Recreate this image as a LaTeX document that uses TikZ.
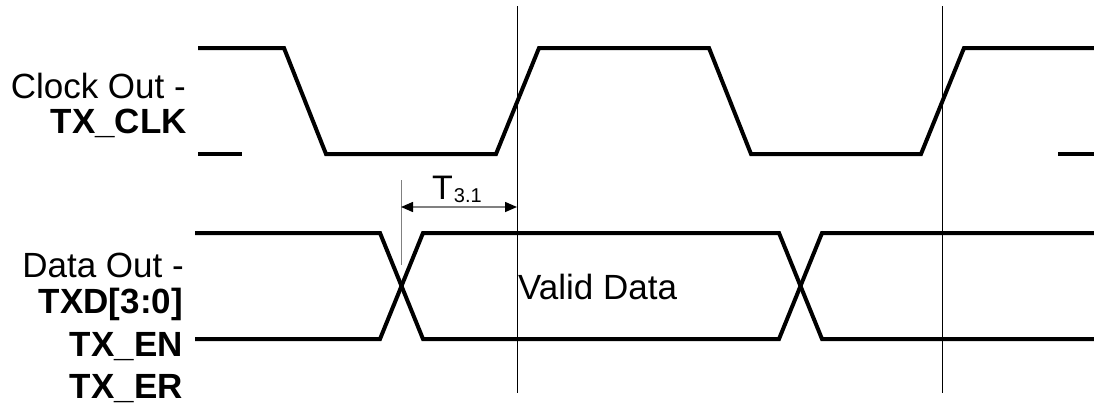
\documentclass[tikz,border=0pt]{standalone}
\usepackage{fontspec}
\setmainfont{Liberation Sans}
\usetikzlibrary{arrows.meta}

\tikzset{
  wave/.style={line width=4pt,line join=miter},
  mark line/.style={line width=1pt},
  sig label/.style={anchor=base east,inner sep=0pt,font=\fontsize{35}{40}\selectfont},
  dim arrow/.style={line width=1.5pt,gray,{Triangle[length=12pt,width=10pt,color=black]}-{Triangle[length=12pt,width=10pt,color=black]}}
}

\begin{document}
\begin{tikzpicture}[x=1pt,y=-1pt]
    \useasboundingbox (0,0) rectangle (1094,405);
    % clock
    \draw[wave] (198,48)--(284,48)--(326,154)--(496,154)--(539,48)--(709,48)--(751,154)--(921,154)--(964,48)--(1094,48);
    \draw[wave] (198,154)--(242,154);
    \draw[wave] (1058,154)--(1094,154);
    % data
    \draw[wave] (195,233)--(380,233)--(423,339)--(779,339)--(822,233)--(1094,233);
    \draw[wave] (195,339)--(380,339)--(423,233)--(779,233)--(822,339)--(1094,339);
    % reference lines
    \draw[mark line] (517,6)--(517,393);
    \draw[mark line] (942,6)--(942,393);
    \coordinate (t0) at (401,207);
    \coordinate (t1) at (517,207);
    \draw[mark line,gray] (401,180)--(401,265);
    \draw[dim arrow] (t0)--(t1);
    \node[anchor=base west,inner sep=0pt,font=\fontsize{34}{40}\selectfont] (tlab) at (432,199) {T\raisebox{-3pt}{\kern1pt\fontsize{20}{22}\selectfont 3.1}};
    \node[anchor=west,inner sep=0pt,font=\fontsize{35}{40}\selectfont] (valid) at (518,287) {Valid Data};
    % labels
    \node[sig label] (clk1) at (186,98) {Clock Out -};
    \node[sig label] (clk2) at (187,133) {\bfseries TX\_CLK};
    \node[sig label] (dat1) at (184,277) {Data Out -};
    \node[sig label] (dat2) at (183,313) {\bfseries TXD[3:0]};
    \node[sig label] (dat3) at (183,356) {\bfseries TX\_EN};
    \node[sig label] (dat4) at (183,398) {\bfseries TX\_ER};
\end{tikzpicture}
\end{document}
